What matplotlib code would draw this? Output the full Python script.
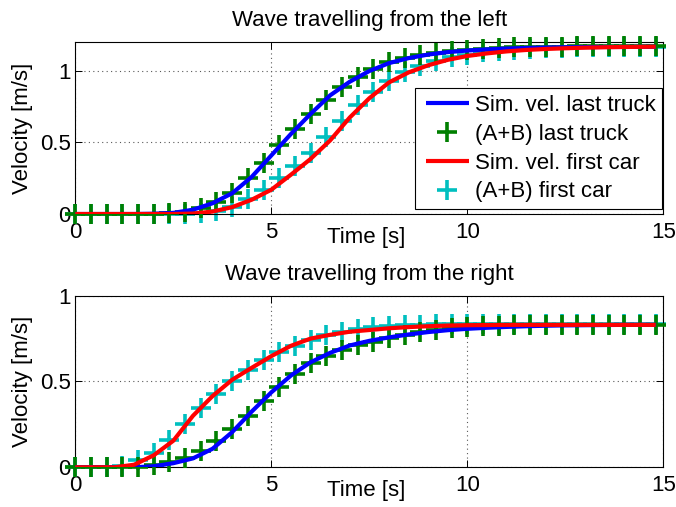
import numpy as np
import matplotlib
matplotlib.use('Agg')
import matplotlib.pyplot as plt
from matplotlib.lines import Line2D
from matplotlib.legend_handler import HandlerLine2D

plt.rcParams['font.family'] = ['Liberation Sans', 'DejaVu Sans']
plt.rcParams['font.size'] = 16

# ---------------- data ----------------
# simulation time grid (s)
t_sim = np.append(np.arange(0, 14.51, 0.5), 14.8)
# (A+B) sample times (s)
t_ab = np.arange(0, 14.81, 0.4)

# Wave travelling from the left
left_sim_last_truck = [0, 0, 0, 0, 0.002, 0.008, 0.03, 0.075, 0.145, 0.26,
                       0.41, 0.56, 0.70, 0.83, 0.925, 1.0, 1.055, 1.09, 1.115, 1.132,
                       1.143, 1.151, 1.157, 1.161, 1.164, 1.166, 1.167, 1.168, 1.168, 1.169,
                       1.169]
left_sim_first_car = [0, 0, 0, 0, 0, 0, 0.003, 0.017, 0.048, 0.10,
                      0.17, 0.275, 0.385, 0.515, 0.675, 0.81, 0.92, 0.99, 1.04, 1.078,
                      1.105, 1.123, 1.137, 1.147, 1.154, 1.159, 1.163, 1.166, 1.168, 1.169,
                      1.17]
left_ab_last_truck = [0, 0, 0, 0, 0, 0, 0.004, 0.015, 0.04, 0.085,
                      0.15, 0.25, 0.36, 0.48, 0.595, 0.70, 0.80, 0.885, 0.955, 1.015,
                      1.06, 1.09, 1.112, 1.128, 1.141, 1.15, 1.157, 1.162, 1.165, 1.168,
                      1.17, 1.171, 1.172, 1.172, 1.172, 1.172, 1.172, 1.172]
left_ab_first_car = [0, 0, 0, 0, 0, 0, 0, 0, 0.004, 0.018,
                     0.05, 0.105, 0.17, 0.25, 0.335, 0.425, 0.535, 0.65, 0.76, 0.855,
                     0.93, 0.99, 1.035, 1.07, 1.095, 1.115, 1.13, 1.142, 1.15, 1.156,
                     1.161, 1.164, 1.166, 1.168, 1.169, 1.17, 1.17, 1.17]

# Wave travelling from the right
right_sim_last_truck = [0, 0, 0, 0, 0.006, 0.024, 0.052, 0.108, 0.205, 0.325,
                        0.437, 0.535, 0.612, 0.667, 0.71, 0.737, 0.757, 0.774, 0.788, 0.799,
                        0.807, 0.813, 0.818, 0.822, 0.825, 0.827, 0.828, 0.829, 0.83, 0.83,
                        0.83]
right_sim_first_car = [0, 0, 0, 0.015, 0.07, 0.155, 0.30, 0.415, 0.51, 0.58,
                       0.648, 0.708, 0.75, 0.772, 0.79, 0.80, 0.81, 0.817, 0.822, 0.826,
                       0.828, 0.829, 0.83, 0.83, 0.83, 0.83, 0.83, 0.83, 0.83, 0.83,
                       0.83]
right_ab_last_truck = [0, 0, 0, 0, 0, 0.012, 0.03, 0.055, 0.095, 0.155,
                       0.225, 0.30, 0.385, 0.47, 0.545, 0.605, 0.65, 0.685, 0.712, 0.733,
                       0.752, 0.77, 0.786, 0.799, 0.809, 0.817, 0.822, 0.826, 0.829, 0.831,
                       0.832, 0.832, 0.832, 0.832, 0.832, 0.832, 0.832, 0.832]
right_ab_first_car = [0, 0, 0, 0.008, 0.045, 0.085, 0.16, 0.255, 0.345, 0.43,
                      0.505, 0.565, 0.625, 0.67, 0.705, 0.74, 0.77, 0.79, 0.805, 0.816,
                      0.824, 0.829, 0.832, 0.834, 0.835, 0.835, 0.835, 0.835, 0.835, 0.835,
                      0.835, 0.835, 0.835, 0.835, 0.835, 0.835, 0.835, 0.835]

titles = ['Wave travelling from the left', 'Wave travelling from the right']
legend_labels = ['Sim. vel. last truck', '(A+B) last truck',
                 'Sim. vel. first car', '(A+B) first car']
x_ticks = [0, 5, 10, 15]
x_ticklabels = ['0', '5', '10', '15']
y_ticks = [0, 0.5, 1]
y_ticklabels = ['0', '0.5', '1']
y_limits = [(0, 1.2), (0, 1.0)]

BLUE = '#0000ff'
RED = '#ff0000'
GREEN = '#007f00'
CYAN = '#00bfbf'

# ---------------- figure ----------------
fig = plt.figure(figsize=(6.76, 5.07), dpi=100)
ax1 = fig.add_axes([0.1114, 0.5779, 0.8701, 0.3385])
ax2 = fig.add_axes([0.1114, 0.0783, 0.8701, 0.3385])

datasets = [
    (left_sim_last_truck, left_ab_last_truck, left_sim_first_car, left_ab_first_car),
    (right_sim_last_truck, right_ab_last_truck, right_sim_first_car, right_ab_first_car),
]

for i, (ax, (sim_lt, ab_lt, sim_fc, ab_fc)) in enumerate(zip([ax1, ax2], datasets)):
    h_fc_ab, = ax.plot(t_ab, ab_fc, ls='none', marker='+', ms=14, mew=2.6,
                       color=CYAN, zorder=2, clip_on=False, label=legend_labels[3])
    h_lt_ab, = ax.plot(t_ab, ab_lt, ls='none', marker='+', ms=14, mew=2.6,
                       color=GREEN, zorder=3, clip_on=False, label=legend_labels[1])
    h_lt_sim, = ax.plot(t_sim, sim_lt, color=BLUE, lw=3, zorder=4,
                        solid_capstyle='butt', label=legend_labels[0])
    h_fc_sim, = ax.plot(t_sim, sim_fc, color=RED, lw=3, zorder=5,
                        solid_capstyle='butt', label=legend_labels[2])

    ax.set_xlim(0, 15)
    ax.set_ylim(*y_limits[i])
    ax.set_xticks(x_ticks)
    ax.set_xticklabels(x_ticklabels)
    ax.set_yticks(y_ticks)
    ax.set_yticklabels(y_ticklabels)
    ax.tick_params(direction='in', length=5, width=0.7, top=True, right=True)
    ax.tick_params(axis='x', pad=5.5)
    ax.tick_params(axis='y', pad=3.3)
    ax.set_axisbelow(True)
    ax.grid(True, linestyle=(0, (1, 3)), color='0.35', linewidth=0.8)
    for s in ax.spines.values():
        s.set_linewidth(0.8)
    ax.set_title(titles[i], fontsize=16, pad=11.5)
    ax.set_ylabel('Velocity [m/s]', labelpad=5)
    ax.set_xlabel('Time [s]')
    ax.xaxis.label.set_va('center')
    ax.xaxis.set_label_coords(0.494, -0.134)

    if i == 0:
        leg = ax.legend(handles=[h_lt_sim, h_lt_ab, h_fc_sim, h_fc_ab],
                        loc='lower right', bbox_to_anchor=(0.998, 0.029),
                        borderaxespad=0, fancybox=False, framealpha=1,
                        edgecolor='black', fontsize=16, borderpad=0.3,
                        labelspacing=0.35, handlelength=2.15, handletextpad=0.26,
                        handler_map={Line2D: HandlerLine2D(xpad=0.2)})
        leg.get_frame().set_linewidth(0.8)
        leg.set_zorder(10)

fig.savefig('out.png', dpi=100)
